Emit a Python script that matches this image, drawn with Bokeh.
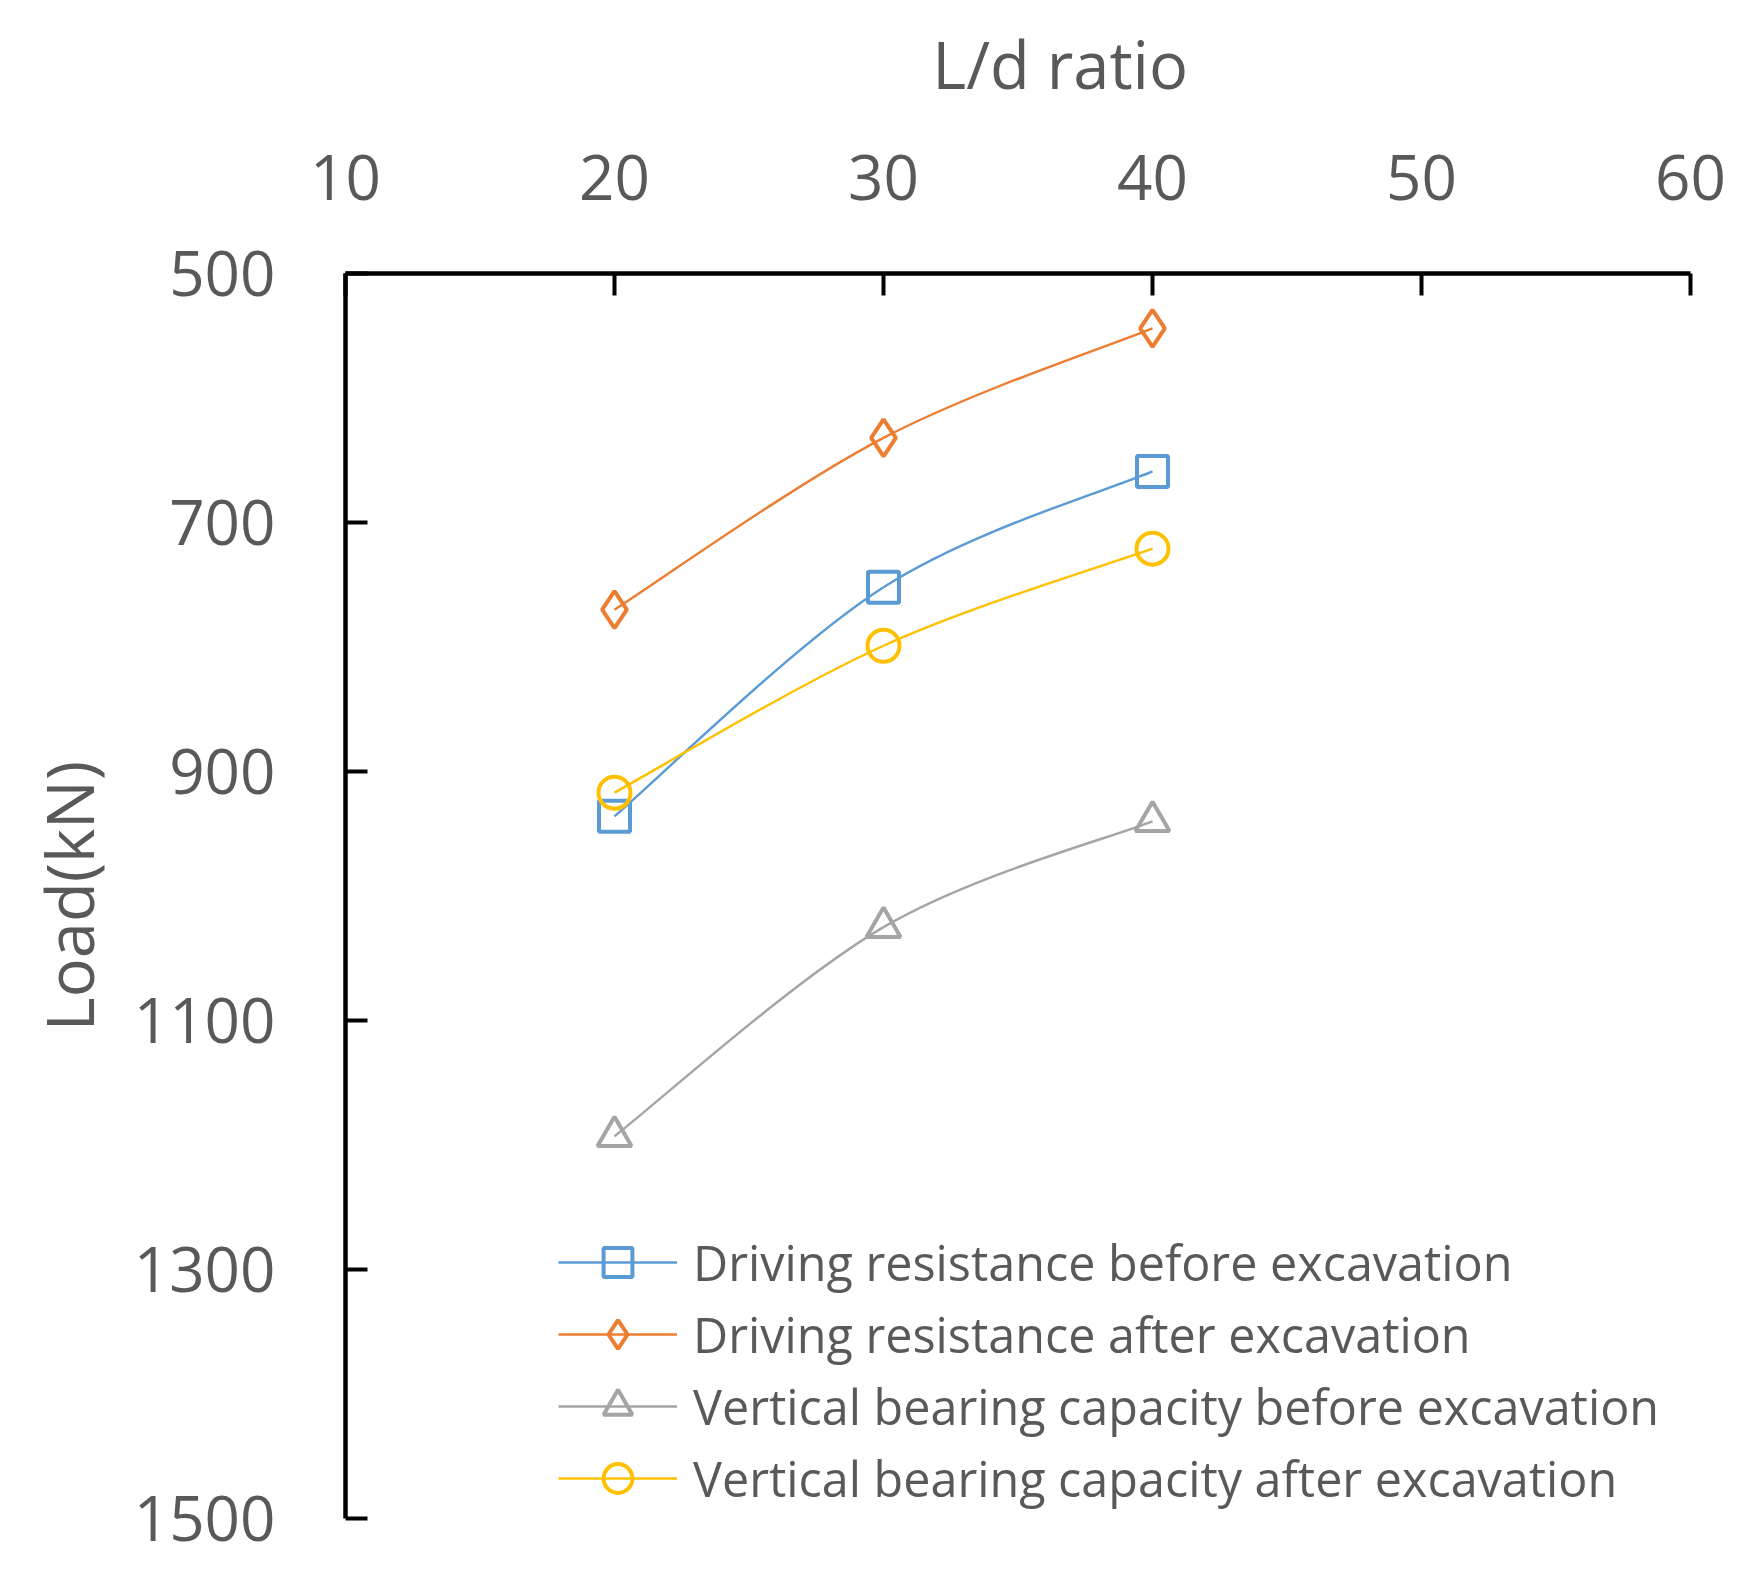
from bokeh.plotting import figure
from bokeh.models import Range1d, FixedTicker, Legend, LegendItem
from bokeh.embed import file_html
from bokeh.resources import INLINE

# ---- data ----
ld_ratio = [20, 30, 40]
driving_before = [936, 752, 659]
driving_after = [770, 632, 544]
vertical_before = [1193, 1025, 940]
vertical_after = [917, 799, 721]

x_ticks = [10, 20, 30, 40, 50, 60]
y_ticks = [500, 700, 900, 1100, 1300, 1500]

x_title = "L/d ratio"
y_title = "Load(kN)"
series_names = [
    "Driving resistance before excavation",
    "Driving resistance after excavation",
    "Vertical bearing capacity before excavation",
    "Vertical bearing capacity after excavation",
]
series_values = [driving_before, driving_after, vertical_before, vertical_after]
series_colors = ["#5B9BD5", "#ED7D31", "#A5A5A5", "#FFC000"]
series_markers = ["square", "diamond", "triangle", "circle"]
series_sizes = [31, 37, 34, 32]

FONT = "Open Sans"
TXT = "#595959"
NBSP = "\u00a0"


def smooth_segments(xs, ys):
    """Catmull-Rom style Bezier control points (Excel-like smoothed line)."""
    n = len(xs)
    out = dict(x0=[], y0=[], x1=[], y1=[], cx0=[], cy0=[], cx1=[], cy1=[])
    for i in range(n - 1):
        im = max(i - 1, 0)
        ip = min(i + 2, n - 1)
        out["x0"].append(xs[i]); out["y0"].append(ys[i])
        out["x1"].append(xs[i + 1]); out["y1"].append(ys[i + 1])
        out["cx0"].append(xs[i] + (xs[i + 1] - xs[im]) / 6.0)
        out["cy0"].append(ys[i] + (ys[i + 1] - ys[im]) / 6.0)
        out["cx1"].append(xs[i + 1] - (xs[ip] - xs[i]) / 6.0)
        out["cy1"].append(ys[i + 1] - (ys[ip] - ys[i]) / 6.0)
    return out


p = figure(
    width=1745, height=1560,
    x_range=Range1d(10, 60), y_range=Range1d(1500, 500),
    x_axis_location="above",
    output_backend="svg", toolbar_location=None,
    min_border_left=345, min_border_right=55,
    min_border_top=273, min_border_bottom=42,
)
p.outline_line_color = None
p.grid.visible = False
p.background_fill_color = "white"

for ax, ticks in ((p.xaxis[0], x_ticks), (p.yaxis[0], y_ticks)):
    ax.ticker = FixedTicker(ticks=ticks)
    ax.axis_line_width = 4.5
    ax.axis_line_color = "black"
    ax.major_tick_line_width = 4
    ax.major_tick_line_color = "black"
    ax.major_tick_in = 22
    ax.major_tick_out = 0
    ax.minor_tick_line_color = None
    ax.major_label_text_font = FONT
    ax.major_label_text_font_size = "62px"
    ax.major_label_text_color = TXT
    ax.axis_label_text_font = FONT
    ax.axis_label_text_font_size = "65px"
    ax.axis_label_text_font_style = "normal"
    ax.axis_label_text_color = TXT

# the x title sits a little right of the frame centre in the original;
# leading no-break spaces shift the centred label accordingly
p.xaxis.axis_label = NBSP * 5 + x_title
p.yaxis.axis_label = y_title
p.xaxis.major_label_standoff = 74
p.xaxis.axis_label_standoff = 44
p.yaxis.major_label_standoff = 70
p.yaxis.axis_label_standoff = 18

items = []
for name, vals, col, mk, sz in zip(series_names, series_values, series_colors,
                                   series_markers, series_sizes):
    seg = smooth_segments(ld_ratio, vals)
    rb = p.bezier(x0=seg["x0"], y0=seg["y0"], x1=seg["x1"], y1=seg["y1"],
                  cx0=seg["cx0"], cy0=seg["cy0"], cx1=seg["cx1"], cy1=seg["cy1"],
                  line_color=col, line_width=2.4)
    rs = p.scatter(x=ld_ratio, y=vals, marker=mk, size=sz,
                   line_color=col, line_width=4, fill_color=None)
    items.append(LegendItem(label=name, renderers=[rb, rs]))

legend = Legend(
    items=items, location=(213, 4),
    glyph_width=119, glyph_height=72, label_height=40, spacing=0,
    label_standoff=16, padding=0, margin=0,
    border_line_color=None, background_fill_alpha=0,
    label_text_font=FONT, label_text_font_size="48.5px", label_text_color=TXT,
)
p.add_layout(legend)

open("out.html", "w").write(file_html(p, INLINE))
